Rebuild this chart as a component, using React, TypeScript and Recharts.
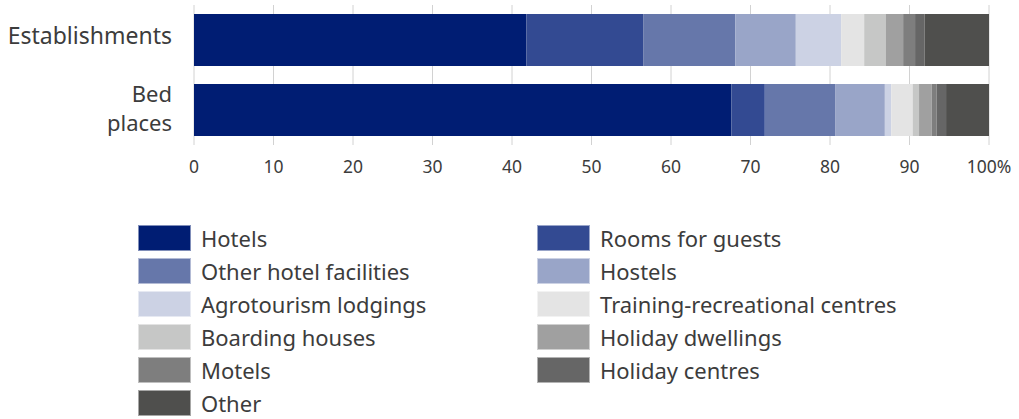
import React from "react";
import { BarChart, Bar, XAxis, YAxis, CartesianGrid, Legend } from "recharts";

const categories = ["Establishments", "Bed places"];
const categoryLines = [["Establishments"], ["Bed", "places"]];

const seriesNames = [
  "Hotels",
  "Rooms for guests",
  "Other hotel facilities",
  "Hostels",
  "Agrotourism lodgings",
  "Training-recreational centres",
  "Boarding houses",
  "Holiday dwellings",
  "Motels",
  "Holiday centres",
  "Other",
];

const establishments = [41.8, 14.7, 11.6, 7.6, 5.7, 2.9, 2.7, 2.2, 1.5, 1.2, 8.1];
const bedPlaces = [67.6, 4.2, 8.9, 6.2, 0.8, 2.7, 0.8, 1.6, 0.6, 1.2, 5.4];

const colors = [
  "#001d73",
  "#334a92",
  "#6677aa",
  "#99a5c8",
  "#ccd2e4",
  "#e4e4e4",
  "#c6c7c6",
  "#a0a0a0",
  "#7e7e7e",
  "#666666",
  "#4f4f4d",
];

const xTicks = [0, 10, 20, 30, 40, 50, 60, 70, 80, 90, 100];

const data = categories.map((c, ci) => {
  const row: Record<string, any> = { name: c };
  const vals = ci === 0 ? establishments : bedPlaces;
  seriesNames.forEach((s, i) => (row[s] = vals[i]));
  return row;
});

const FONT = "'Noto Sans', 'Open Sans', sans-serif";
const TEXT = "#3c3c3c";

const YTick = (props: any) => {
  const { x, y, payload } = props;
  const idx = categories.indexOf(payload.value);
  const lines = categoryLines[idx] || [payload.value];
  const n = lines.length;
  const base = n === 1 ? 4 : 6;
  return (
    <g>
      {lines.map((l, i) => (
        <text
          key={i}
          x={x}
          y={y + base + (i - (n - 1) / 2) * 29}
          textAnchor="end"
          fontSize={n === 1 ? 23 : 22}
          fontFamily={FONT}
          fill={TEXT}
        >
          {l}
        </text>
      ))}
    </g>
  );
};

const LegendContent = (props: any) => {
  const payload = [...(props.payload || [])].sort(
    (a: any, b: any) => seriesNames.indexOf(a.value) - seriesNames.indexOf(b.value)
  );
  return (
    <div style={{ position: "relative", width: 1019, height: 190 }}>
      {payload.map((p: any, i: number) => {
        const col = i % 2;
        const row = Math.floor(i / 2);
        return (
          <div
            key={i}
            style={{
              position: "absolute",
              left: col === 0 ? 138 : 537,
              top: row * 33,
              display: "flex",
              alignItems: "center",
              height: 27,
            }}
          >
            <div
              style={{
                width: 53,
                height: 26,
                background: p.color,
                boxSizing: "border-box",
                border: "1px solid rgba(255,255,255,0.5)",
              }}
            />
            <span
              style={{
                marginLeft: 10,
                fontFamily: FONT,
                fontSize: 22,
                color: TEXT,
                whiteSpace: "nowrap",
                lineHeight: "22px",
              }}
            >
              {p.value}
            </span>
          </div>
        );
      })}
    </div>
  );
};

export default function App() {
  return (
    <div style={{ width: 1019, height: 419, background: "#fff" }}>
      <style>{`body{margin:0;}`}</style>
      <BarChart
        width={1019}
        height={419}
        data={data}
        layout="vertical"
        margin={{ top: 5, right: 30, left: 0, bottom: 244 }}
        barSize={52}
      >
        <CartesianGrid horizontal={false} stroke="#d2d2d2" />
        <XAxis
          type="number"
          domain={[0, 100]}
          ticks={xTicks}
          interval={0}
          axisLine={false}
          tickLine={false}
          tickSize={8}
          tickMargin={8}
          height={30}
          tickFormatter={(v: number) => (v === 100 ? "100%" : String(v))}
          tick={{ fontSize: 17.5, fontFamily: FONT, fill: TEXT }}
        />
        <YAxis
          type="category"
          dataKey="name"
          width={194}
          axisLine={false}
          tickLine={false}
          tickSize={0}
          tickMargin={22}
          tick={<YTick />}
        />
        <Legend
          layout="horizontal"
          verticalAlign="middle"
          align="center"
          wrapperStyle={{ top: 224, left: 0, width: 1019, height: 190 }}
          content={<LegendContent />}
        />
        {seriesNames.map((s, i) => (
          <Bar
            key={s}
            dataKey={s}
            stackId="a"
            fill={colors[i]}
            isAnimationActive={false}
          />
        ))}
      </BarChart>
    </div>
  );
}
